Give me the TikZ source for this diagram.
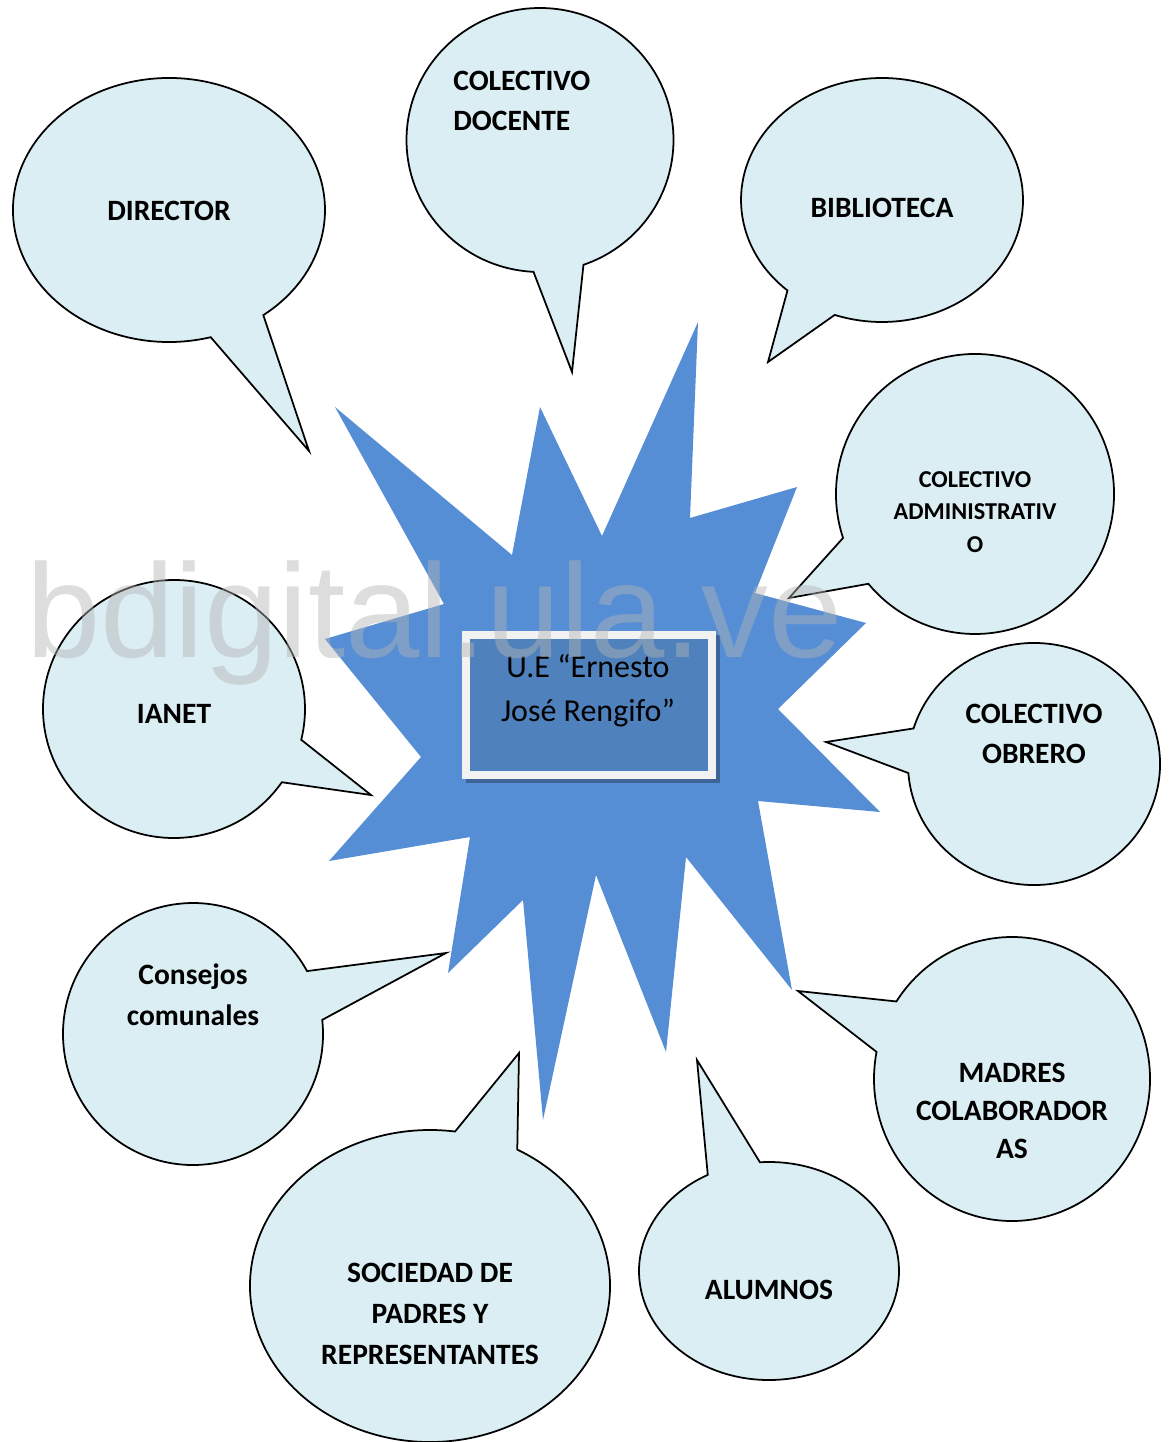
\documentclass[tikz,border=0pt]{standalone}
\usepackage{fontspec}
\setmainfont{Carlito}
\newfontfamily\wmfont{Liberation Sans}
\definecolor{starblue}{RGB}{85,142,213}
\definecolor{bubblefill}{RGB}{219,238,244}
\definecolor{boxblue}{RGB}{79,129,189}
\definecolor{boxrim}{RGB}{242,242,242}
\definecolor{boxshade}{RGB}{62,100,152}
\definecolor{wmgrey}{RGB}{180,180,180}

\begin{document}
\begin{tikzpicture}[x=0.02cm, y=-0.02cm,
    bubble/.style={draw=black, line width=1pt, fill=bubblefill, line join=miter},
    bubtext/.style={font=\bfseries\fontsize{16.8}{23.2}\selectfont, align=center, inner sep=0pt},
    smalltext/.style={font=\bfseries\fontsize{13.8}{18.7}\selectfont},
  ]
  \useasboundingbox (0,0) rectangle (1172,1442);

  \fill[starblue] (335,407) -- (512,555) -- (540,407) -- (602,536) -- (698,322) -- (690,518)
    -- (797,487) -- (755,593) -- (866,623) -- (778,709) -- (880,812) -- (758,801)
    -- (792,990) -- (686,857) -- (666,1052) -- (596,875) -- (543,1120) -- (523,900)
    -- (448,973) -- (470,837) -- (329,861) -- (421,757) -- (325,639) -- (444,604) -- cycle;

  \draw[bubble] (169,210) ++(74.5:156 and 132) arc[start angle=74.5, end angle=412.8, x radius=156, y radius=132] -- (309,451) -- cycle;
  \draw[bubble] (540,140) ++(92.8:133.5 and 132) arc[start angle=92.8, end angle=431, x radius=133.5, y radius=132] -- (572,372) -- cycle;
  \draw[bubble] (882,200) ++(132.1:141 and 122) arc[start angle=132.1, end angle=469.6, x radius=141, y radius=122] -- (768,362) -- cycle;
  \draw[bubble] (975,494) ++(161.7:139 and 140) arc[start angle=161.7, end angle=500.1, x radius=139, y radius=140] -- (789,598) -- cycle;
  \draw[bubble] (1034,764) ++(197.1:126 and 121) arc[start angle=197.1, end angle=535.7, x radius=126, y radius=121] -- (826,742) -- cycle;
  \draw[bubble] (1012,1079) ++(213.1:138 and 142) arc[start angle=213.1, end angle=551, x radius=138, y radius=142] -- (798,991) -- cycle;
  \draw[bubble] (769,1271) ++(266:130 and 109) arc[start angle=266, end angle=601.9, x radius=130, y radius=109] -- (697,1060) -- cycle;
  \draw[bubble] (430,1286) ++(299:180 and 156) arc[start angle=299, end angle=638, x radius=180, y radius=156] -- (519,1053) -- cycle;
  \draw[bubble] (193,1034) ++(353.8:130 and 131) arc[start angle=353.8, end angle=691.3, x radius=130, y radius=131] -- (446,953) -- cycle;
  \draw[bubble] (174,709) ++(34.6:131 and 129) arc[start angle=34.6, end angle=373.8, x radius=131, y radius=129] -- (371,795) -- cycle;

  \node[bubtext] (director) at (169,211) {DIRECTOR};
  \node[bubtext, align=left, anchor=west] (docente) at (453,101) {COLECTIVO\\DOCENTE};
  \node[bubtext] (biblioteca) at (882,208) {BIBLIOTECA};
  \node[bubtext, smalltext] (administrativo) at (975,512) {COLECTIVO\\ADMINISTRATIV\\O};
  \node[bubtext] (obrero) at (1034,734) {COLECTIVO\\OBRERO};
  \node[bubtext, font=\bfseries\fontsize{16.8}{21.5}\selectfont] (madres) at (1012,1111) {MADRES\\COLABORADOR\\AS};
  \node[bubtext] (alumnos) at (769,1290) {ALUMNOS};
  \node[bubtext] (sociedad) at (430,1314) {SOCIEDAD DE\\PADRES Y\\REPRESENTANTES};
  \node[bubtext] (consejos) at (193,995) {Consejos\\comunales};
  \node[bubtext] (ianet) at (174,714) {IANET};

  \fill[boxshade] (466,635) rectangle (720,783);
  \node[draw=boxrim, line width=4.5pt, fill=boxblue, minimum width=4.92cm, minimum height=2.8cm] (ue) at (589,705) {};
  \node[font=\fontsize{18.2}{25}\selectfont, align=center, inner sep=0pt] (uename) at (588,691) {U.E “Ernesto\\José Rengifo”};

  \node[font=\wmfont\fontsize{76}{76}\selectfont, text=wmgrey, text opacity=0.45, anchor=base west, inner sep=0pt] (watermark) at (26,657) {bdigital.ula.ve};
\end{tikzpicture}
\end{document}
